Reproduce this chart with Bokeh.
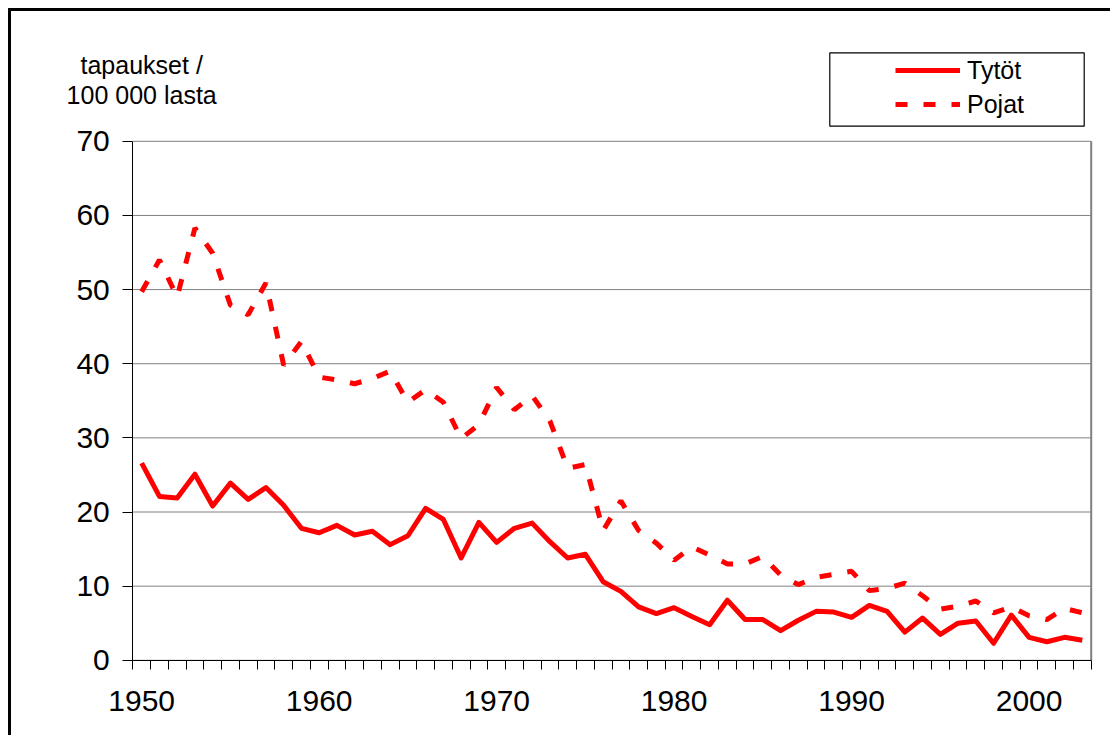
from bokeh.plotting import figure
from bokeh.models import (Range1d, FixedTicker, Legend, LegendItem, Label,
                          BoxAnnotation)
from bokeh.embed import file_html
from bokeh.resources import INLINE

# ---- data -------------------------------------------------------------
years = list(range(1950, 2004))
tytot = [26.6, 22.1, 21.9, 25.1, 20.8, 23.9, 21.7, 23.3, 20.9, 17.8,
         17.2, 18.2, 16.9, 17.4, 15.6, 16.8, 20.5, 19.0, 13.8, 18.6,
         15.9, 17.8, 18.5, 16.0, 13.8, 14.3, 10.6, 9.3, 7.2, 6.3,
         7.1, 5.9, 4.8, 8.1, 5.5, 5.5, 4.0, 5.4, 6.6, 6.5,
         5.8, 7.4, 6.6, 3.8, 5.7, 3.5, 5.0, 5.3, 2.3, 6.1,
         3.1, 2.5, 3.1, 2.7]
pojat = [49.7, 54.0, 49.0, 58.3, 54.9, 47.9, 46.6, 50.9, 39.8, 43.0,
         38.2, 37.8, 37.3, 38.0, 39.0, 34.8, 36.5, 34.8, 29.9, 31.8,
         36.8, 33.8, 35.7, 32.3, 25.9, 26.4, 17.5, 21.5, 17.5, 15.8,
         13.5, 15.3, 14.2, 13.0, 13.0, 14.0, 11.5, 10.2, 11.2, 11.6,
         12.0, 9.4, 9.7, 10.4, 8.7, 6.9, 7.3, 8.0, 6.4, 7.2,
         6.0, 5.5, 7.0, 6.4]
x_labels = [1950, 1960, 1970, 1980, 1990, 2000]
y_ticks = [0, 10, 20, 30, 40, 50, 60, 70]
series_names = ["Tytöt", "Pojat"]
y_title = ["tapaukset /", "100 000 lasta"]

FONT = "Liberation Sans"
RED = "#ff0000"
GRID = "#808080"

# ---- geometry (page pixels of the reference) --------------------------
W, H = 1102, 727            # canvas; page origin of canvas = (11, 11)
OX, OY = 11, 11
PX_LEFT, PX_RIGHT = 132.3, 1090.7       # plot area x edges
PY_ZERO, PY_70 = 659.8, 140.8           # y of value 0 and 70
x0, x1 = years[0] - 0.5, years[-1] + 0.5
xs = (PX_RIGHT - PX_LEFT) / (x1 - x0)
ys = (PY_ZERO - PY_70) / 70.0

def px2x(px):
    return x0 + (px - PX_LEFT) / xs

def py2y(py):
    return (PY_ZERO - py) / ys

p = figure(width=W, height=H, output_backend="svg", toolbar_location=None,
           x_range=Range1d(px2x(OX), px2x(OX + W)),
           y_range=Range1d(py2y(OY + H), py2y(OY)),
           min_border=0, min_border_left=0, min_border_right=0,
           min_border_top=0, min_border_bottom=0)
p.styles = {"margin-left": "8px", "margin-top": "8px",
            "border-left": "3px solid black", "border-top": "3px solid black"}
p.background_fill_color = "white"
p.border_fill_color = "white"
p.outline_line_color = None
p.xgrid.visible = False
p.ygrid.visible = False

# gridlines and plot-area border (right side)
p.segment(x0=[x0] * len(y_ticks), x1=[x1] * len(y_ticks), y0=y_ticks, y1=y_ticks,
          line_color=GRID, line_width=1, level="underlay")
p.segment(x0=[x1], x1=[x1], y0=[y_ticks[0]], y1=[y_ticks[-1]],
          line_color=GRID, line_width=2, level="underlay")

# x axis: labels at category centres, ticks at category boundaries
xa = p.xaxis[0]
xa.fixed_location = 0
xa.bounds = (x0, x1)
xa.ticker = FixedTicker(ticks=x_labels,
                        minor_ticks=[y - 0.5 for y in years] + [years[-1] + 0.5])
xa.major_tick_line_color = None
xa.major_tick_out = 0
xa.major_tick_in = 0
xa.minor_tick_out = 9
xa.minor_tick_in = 0
xa.minor_tick_line_color = "black"
xa.axis_line_color = "black"
xa.major_label_text_font = FONT
xa.major_label_text_font_size = "30px"
xa.major_label_text_color = "black"
xa.major_label_standoff = 22

ya = p.yaxis[0]
ya.fixed_location = x0
ya.bounds = (0, 70)
ya.ticker = FixedTicker(ticks=y_ticks)
ya.minor_tick_line_color = None
ya.major_tick_out = 10
ya.major_tick_in = 0
ya.major_tick_line_color = "black"
ya.axis_line_color = "black"
ya.major_label_text_font = FONT
ya.major_label_text_font_size = "30px"
ya.major_label_text_color = "black"
ya.major_label_standoff = 13

r1 = p.line(years, tytot, line_color=RED, line_width=5, line_join="round")
r2 = p.line(years, pojat, line_color=RED, line_width=5, line_dash="12 16",
            line_cap="butt")

# axis title (two lines, above the y axis)
for txt, py in zip(y_title, [64.0, 94.3]):
    p.add_layout(Label(x=years[0], y=py2y(py), text=txt, text_align="center",
                       text_baseline="alphabetic", text_font=FONT,
                       text_font_size="25px", text_color="black"))

# legend box
p.add_layout(BoxAnnotation(left=px2x(829.3), right=px2x(1083.7),
                           bottom=py2y(125.7), top=py2y(52.3),
                           fill_color=None, fill_alpha=0,
                           line_color="black", line_alpha=1.0, line_width=1.2))

legend = Legend(items=[LegendItem(label=series_names[0], renderers=[r1]),
                       LegendItem(label=series_names[1], renderers=[r2])],
                location=(895 - OX, OY + H - 119.3), border_line_color=None,
                background_fill_alpha=0, padding=0, margin=0,
                glyph_width=65, glyph_height=30, label_height=30,
                label_standoff=7, spacing=4,
                label_text_font=FONT, label_text_font_size="25px",
                label_text_color="black")
p.add_layout(legend, "center")

open("out.html", "w").write(file_html(p, INLINE))
